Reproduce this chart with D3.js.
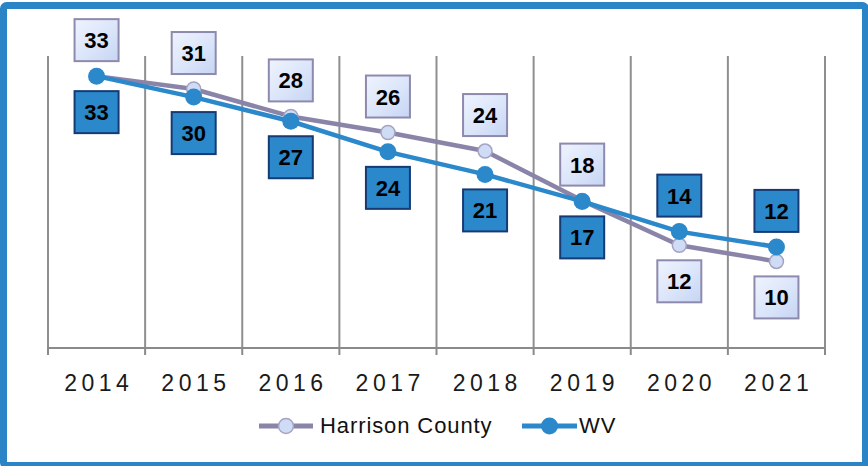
<!DOCTYPE html>
<html>
<head>
<meta charset="utf-8">
<script src="https://cdn.jsdelivr.net/npm/d3@7"></script>
<style>
  html, body { margin: 0; padding: 0; background: #ffffff; }
  svg { display: block; }
</style>
</head>
<body>
<svg id="chart" width="868" height="466"></svg>
<script>
// ---- data ----
const years = ["2014", "2015", "2016", "2017", "2018", "2019", "2020", "2021"];
const harrison = [33, 31.4, 28, 26, 23.7, 17.55, 12, 10];
const wv = [33, 30.4, 27.4, 23.6, 20.8, 17.45, 13.7, 11.8];
const seriesNames = ["Harrison County", "WV"];

// ---- layout ----
const W = 868, H = 466;
const plot = { left: 48, right: 825, top: 56, bottom: 348 };
const colH = "#8a84a8", colHFill = "#cfdcf6", colW = "#2a88cb", colWBorder = "#173a75";

const svg = d3.select("#chart");

const defs = svg.append("defs");
const grad = defs.append("linearGradient").attr("id", "hgrad")
  .attr("x1", "0").attr("y1", "0").attr("x2", "1").attr("y2", "1");
grad.append("stop").attr("offset", "0%").attr("stop-color", "#eef3fe");
grad.append("stop").attr("offset", "55%").attr("stop-color", "#dbe5fa");
grad.append("stop").attr("offset", "100%").attr("stop-color", "#c6d5f3");

// outer frame
svg.append("rect").attr("x", 0).attr("y", 0).attr("width", W).attr("height", H).attr("fill", "#fff");
svg.append("rect").attr("x", 3.5).attr("y", 5.5).attr("width", 862).attr("height", 460)
  .attr("rx", 3).attr("fill", "#fff").attr("stroke", "#2a84c6").attr("stroke-width", 7);

const x = d3.scaleBand().domain(years).range([plot.left, plot.right]).paddingInner(0).paddingOuter(0);
const y = d3.scaleLinear().domain([-0.75, 35.5]).range([plot.bottom, plot.top]);

// vertical gridlines at category boundaries
const bounds = years.map(yr => x(yr)).concat([x(years[years.length - 1]) + x.bandwidth()]);
svg.append("g").selectAll("line").data(bounds).join("line")
  .attr("x1", d => d).attr("x2", d => d)
  .attr("y1", plot.top).attr("y2", plot.bottom)
  .attr("stroke", "#8f8f8f").attr("stroke-width", 2);

// x axis
const xAxis = d3.axisBottom(x).tickSize(0).tickPadding(0);
const gx = svg.append("g").attr("transform", `translate(0,${plot.bottom})`).call(xAxis);
gx.select(".domain").remove();
gx.selectAll(".tick text")
  .attr("y", 43)
  .attr("dy", 0)
  .attr("dx", 2.25)
  .attr("fill", "#1a1a1a")
  .style("font-family", "'Liberation Sans', Arial, sans-serif")
  .style("font-size", "23px")
  .style("letter-spacing", "4.5px");
svg.append("line").attr("x1", plot.left).attr("x2", plot.right)
  .attr("y1", plot.bottom).attr("y2", plot.bottom)
  .attr("stroke", "#8a8a8a").attr("stroke-width", 2);
svg.append("g").selectAll("line").data(bounds).join("line")
  .attr("x1", d => d).attr("x2", d => d)
  .attr("y1", plot.bottom).attr("y2", plot.bottom + 7)
  .attr("stroke", "#8a8a8a").attr("stroke-width", 2);

const cx = (d, i) => x(years[i]) + x.bandwidth() / 2;
const line = d3.line().x((d, i) => cx(d, i)).y(d => y(d));

// Harrison series
svg.append("path").datum(harrison).attr("d", line)
  .attr("fill", "none").attr("stroke", colH).attr("stroke-width", 4.5).attr("stroke-linejoin", "round");
svg.append("g").selectAll("circle").data(harrison).join("circle")
  .attr("cx", cx).attr("cy", d => y(d)).attr("r", 7)
  .attr("fill", colHFill).attr("stroke", "#a6a3c2").attr("stroke-width", 1.5);

// WV series
svg.append("path").datum(wv).attr("d", line)
  .attr("fill", "none").attr("stroke", colW).attr("stroke-width", 4.5).attr("stroke-linejoin", "round");
svg.append("g").selectAll("circle").data(wv).join("circle")
  .attr("cx", cx).attr("cy", d => y(d)).attr("r", 8.5)
  .attr("fill", colW);

// data labels: each label sits on the side away from the other series
const boxW = 44, boxH = 42, off = 36;
function labels(values, other, isH) {
  const g = svg.append("g");
  values.forEach((v, i) => {
    const above = isH ? v >= other[i] : v > other[i];
    const cy = y(v) + (above ? -off : off);
    g.append("rect")
      .attr("x", cx(v, i) - boxW / 2).attr("y", cy - boxH / 2)
      .attr("width", boxW).attr("height", boxH)
      .attr("fill", isH ? "url(#hgrad)" : colW)
      .attr("stroke", isH ? "#8e8aad" : colWBorder).attr("stroke-width", 2);
    g.append("text")
      .attr("x", cx(v, i)).attr("y", cy + 8)
      .attr("text-anchor", "middle")
      .attr("fill", "#000")
      .style("font-family", "'Liberation Sans', Arial, sans-serif")
      .style("font-weight", "bold")
      .style("font-size", "22px")
      .text(Math.round(v));
  });
}
labels(harrison, wv, true);
labels(wv, harrison, false);

// legend
const leg = svg.append("g").style("font-family", "'Liberation Sans', Arial, sans-serif")
  .style("font-size", "22px").attr("fill", "#111");
const legItems = [
  { name: seriesNames[0], x0: 259, x1: 313, tx: 320, color: colH, fill: colHFill, r: 7.5, stroke: "#a6a3c2" },
  { name: seriesNames[1], x0: 522, x1: 577, tx: 579, color: colW, fill: colW, r: 8.5, stroke: "none" }
];
legItems.forEach(it => {
  leg.append("line").attr("x1", it.x0).attr("x2", it.x1).attr("y1", 426).attr("y2", 426)
    .attr("stroke", it.color).attr("stroke-width", 5);
  leg.append("circle").attr("cx", (it.x0 + it.x1) / 2).attr("cy", 426).attr("r", it.r)
    .attr("fill", it.fill).attr("stroke", it.stroke).attr("stroke-width", 1.5);
  leg.append("text").attr("x", it.tx).attr("y", 433).style("letter-spacing", "0.9px").text(it.name);
});
</script>
</body>
</html>
